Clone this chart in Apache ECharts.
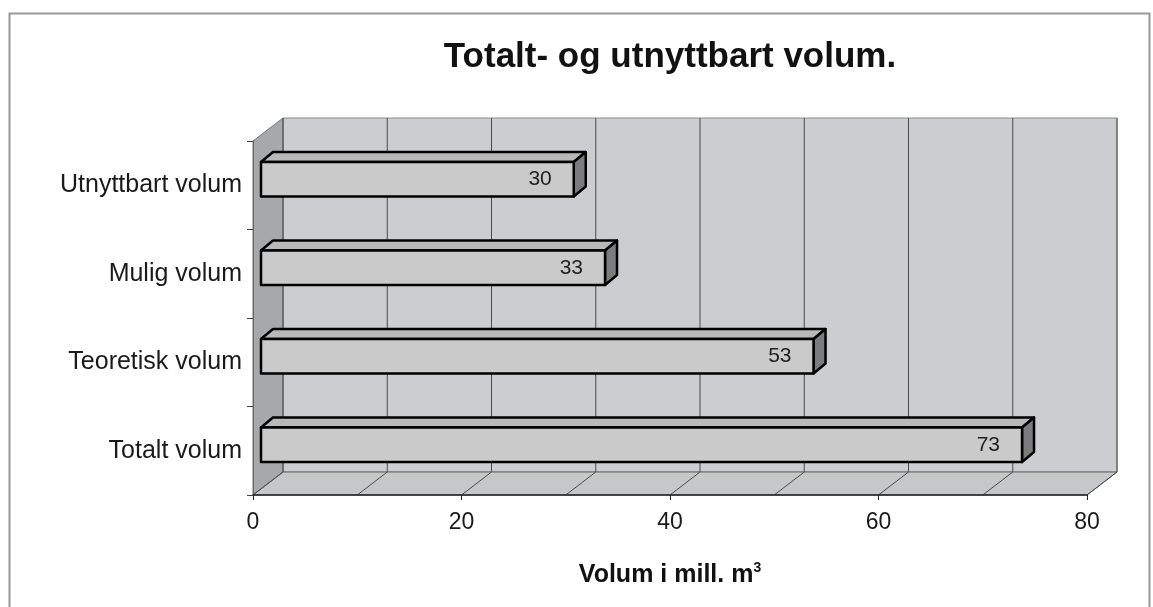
<!doctype html>
<html>
<head>
    <meta charset="utf-8">
    <title>Totalt- og utnyttbart volum</title>
    <script src="https://cdn.jsdelivr.net/npm/echarts@6/dist/echarts.min.js"></script>
    <style>
        html, body { margin: 0; padding: 0; background: #fff; }
        #main { width: 1153px; height: 607px; }
    </style>
</head>
<body>
    <div id="main"></div>
    <script type="text/javascript">
        // data
        var categories = ['Totalt volum', 'Teoretisk volum', 'Mulig volum', 'Utnyttbart volum'];
        var volumes = [73, 53, 33, 30];
        var gridValues = [0, 10, 20, 30, 40, 50, 60, 70, 80];

        // 3D look: depth of the walls and of the bars
        var WALL_DX = 30, WALL_DY = -23;
        var SHIFT_X = 8, SHIFT_Y = -6;
        var BAR_DX = 12, BAR_DY = -10;
        var BAR_RATIO = 0.39;
        var FONT = "'Liberation Sans', Arial, sans-serif";

        function renderWalls(params, api) {
            var cs = params.coordSys;
            var x = cs.x, y = cs.y, w = cs.width, h = cs.height;
            var kids = [];
            kids.push({
                type: 'rect',
                shape: { x: x + WALL_DX, y: y + WALL_DY, width: w, height: h },
                style: { fill: '#cbcdd0', stroke: '#8a8a8a', lineWidth: 1 }
            });
            kids.push({
                type: 'polygon',
                shape: { points: [[x, y], [x + WALL_DX, y + WALL_DY], [x + WALL_DX, y + h + WALL_DY], [x, y + h]] },
                style: { fill: '#a6a8aa', stroke: '#777', lineWidth: 1 }
            });
            kids.push({
                type: 'polygon',
                shape: { points: [[x, y + h], [x + WALL_DX, y + h + WALL_DY], [x + w + WALL_DX, y + h + WALL_DY], [x + w, y + h]] },
                style: { fill: '#c5c7c9', stroke: '#666', lineWidth: 1 }
            });
            gridValues.forEach(function (v) {
                var px = api.coord([v, 0])[0];
                kids.push({
                    type: 'line',
                    shape: { x1: px + WALL_DX, y1: y + WALL_DY, x2: px + WALL_DX, y2: y + h + WALL_DY },
                    style: { stroke: '#4a4a4a', lineWidth: 1 }
                });
                kids.push({
                    type: 'line',
                    shape: { x1: px + WALL_DX, y1: y + h + WALL_DY, x2: px, y2: y + h },
                    style: { stroke: '#4a4a4a', lineWidth: 1 }
                });
            });
            return { type: 'group', children: kids };
        }

        function renderBar(params, api) {
            var v = api.value(0), c = api.value(1);
            var end = api.coord([v, c]);
            var start = api.coord([0, c]);
            var bh = api.size([0, 1])[1] * BAR_RATIO;
            var x0 = start[0] + SHIFT_X, x1 = end[0] + SHIFT_X;
            var yT = end[1] + SHIFT_Y - bh / 2, yB = yT + bh;
            var edge = { stroke: '#000', lineWidth: 2.5, lineJoin: 'round' };
            return {
                type: 'group',
                children: [
                    {
                        type: 'polygon',
                        shape: { points: [[x0, yT], [x0 + BAR_DX, yT + BAR_DY], [x1 + BAR_DX, yT + BAR_DY], [x1, yT]] },
                        style: Object.assign({ fill: '#b9b9b9' }, edge)
                    },
                    {
                        type: 'polygon',
                        shape: { points: [[x1, yT], [x1 + BAR_DX, yT + BAR_DY], [x1 + BAR_DX, yB + BAR_DY], [x1, yB]] },
                        style: Object.assign({ fill: '#7c7c7c' }, edge)
                    },
                    {
                        type: 'rect',
                        shape: { x: x0, y: yT, width: x1 - x0, height: bh },
                        style: Object.assign({ fill: '#cacaca' }, edge)
                    },
                    {
                        type: 'text',
                        style: {
                            text: String(v), x: x1 - 22, y: (yT + yB) / 2,
                            align: 'right', verticalAlign: 'middle',
                            textAlign: 'right', textVerticalAlign: 'middle',
                            fontSize: 21, fontFamily: FONT, fill: '#222'
                        }
                    }
                ]
            };
        }

        var myChart = echarts.init(document.getElementById('main'));
        var option = {
            backgroundColor: '#fff',
            animation: false,
            title: {
                text: 'Totalt- og utnyttbart volum.',
                left: 670,
                top: 40,
                padding: 0,
                textAlign: 'center',
                textStyle: { fontFamily: FONT, fontSize: 35, fontWeight: 'bold', color: '#111' }
            },
            graphic: [{
                type: 'rect',
                z: -10,
                shape: { x: 9.5, y: 13.5, width: 1140, height: 600 },
                style: { fill: null, stroke: '#999', lineWidth: 2 }
            }],
            grid: { left: 253, right: 66, top: 141, bottom: 112 },
            xAxis: {
                type: 'value',
                min: 0,
                max: 80,
                interval: 20,
                z: 5,
                axisLine: { show: true, lineStyle: { color: '#222', width: 1.5 } },
                axisTick: { show: true, length: 5, lineStyle: { color: '#222' } },
                splitLine: { show: false },
                axisLabel: { margin: 16, fontFamily: FONT, fontSize: 23, color: '#1a1a1a' },
                name: '{a|Volum i mill. m}{b|3}',
                nameLocation: 'middle',
                nameGap: 66,
                nameTextStyle: {
                    rich: {
                        a: { fontFamily: FONT, fontSize: 25, fontWeight: 'bold', color: '#111', lineHeight: 28 },
                        b: { fontFamily: FONT, fontSize: 14, fontWeight: 'bold', color: '#111', verticalAlign: 'top', lineHeight: 15 }
                    }
                }
            },
            yAxis: {
                type: 'category',
                data: categories,
                z: 5,
                axisLine: { show: true, lineStyle: { color: '#666', width: 1 } },
                axisTick: { show: true, length: 6, lineStyle: { color: '#444' } },
                splitLine: { show: false },
                axisLabel: { margin: 11, fontFamily: FONT, fontSize: 25, color: '#1a1a1a' }
            },
            series: [
                {
                    type: 'custom',
                    name: 'walls',
                    z: 1,
                    silent: true,
                    renderItem: renderWalls,
                    encode: { x: 0, y: 1 },
                    data: [[0, 0]]
                },
                {
                    type: 'custom',
                    name: 'volum',
                    z: 3,
                    renderItem: renderBar,
                    encode: { x: 0, y: 1 },
                    data: volumes.map(function (v, i) { return [v, i]; })
                }
            ]
        };
        myChart.setOption(option);
    </script>
</body>
</html>
